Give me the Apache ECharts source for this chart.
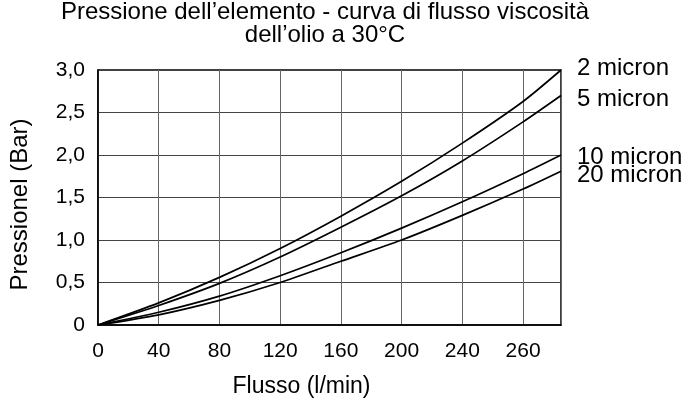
<!DOCTYPE html>
<html>
<head>
<meta charset="utf-8">
<script src="https://cdn.jsdelivr.net/npm/echarts@6/dist/echarts.min.js"></script>
<style>
  html, body { margin: 0; padding: 0; background: #fff; }
  #chart { width: 700px; height: 404px; }
</style>
</head>
<body>
<div id="chart"></div>
<script>
// flusso (l/min) - la griglia arriva a ~305
var flow = [0, 40, 80, 120, 160, 200, 240, 280, 305];
var micron2 = [0, 0.26, 0.56, 0.90, 1.28, 1.69, 2.14, 2.63, 3.0];
var micron5 = [0, 0.23, 0.49, 0.80, 1.15, 1.52, 1.93, 2.39, 2.70];
var micron10 = [0, 0.15, 0.34, 0.58, 0.85, 1.14, 1.45, 1.78, 2.0];
var micron20 = [0, 0.12, 0.29, 0.50, 0.75, 1.00, 1.29, 1.60, 1.81];
var seriesNames = ['2 micron', '5 micron', '10 micron', '20 micron'];
var xTickLabels = ['0', '40', '80', '120', '160', '200', '240', '260'];
var yTickLabels = ['0', '0,5', '1,0', '1,5', '2,0', '2,5', '3,0'];

var font = 'Liberation Sans, Arial, Helvetica, sans-serif';

function pairs(ys) {
  return flow.map(function (x, i) { return [x, ys[i]]; });
}

// spostamento delle etichette a destra delle curve
var labelOffsets = [[8, -2], [8, 4], [8, 2], [8, 4]];

var chart = echarts.init(document.getElementById('chart'));
var option = {
  animation: false,
  backgroundColor: '#fff',
  title: {
    text: 'Pressione dell\u2019elemento - curva di flusso viscosità\ndell\u2019olio a 30°C',
    left: 320,
    textAlign: 'center',
    top: -4,
    textStyle: {
      fontFamily: font,
      fontSize: 24,
      fontWeight: 'normal',
      color: '#000',
      lineHeight: 23
    }
  },
  grid: {
    left: 97,
    right: 139,
    top: 70,
    bottom: 79,
    show: true,
    borderColor: '#000',
    borderWidth: 1.5
  },
  xAxis: {
    type: 'value',
    min: 0,
    max: 305,
    interval: 40,
    name: 'Flusso (l/min)',
    nameLocation: 'middle',
    nameGap: 50,
    nameTextStyle: { fontFamily: font, fontSize: 23, color: '#000', padding: [0, 56, 0, 0] },
    axisLine: { lineStyle: { color: '#000', width: 1.5 } },
    axisTick: { show: false },
    axisLabel: {
      fontFamily: font,
      fontSize: 21,
      color: '#000',
      margin: 16,
      formatter: function (v) {
        var i = v / 40;
        return Number.isInteger(i) && xTickLabels[i] !== undefined ? xTickLabels[i] : '';
      }
    },
    splitLine: { show: true, lineStyle: { color: '#666', width: 1 } }
  },
  yAxis: {
    type: 'value',
    min: 0,
    max: 3,
    interval: 0.5,
    name: 'Pressionel (Bar)',
    nameLocation: 'middle',
    nameGap: 66,
    nameTextStyle: { fontFamily: font, fontSize: 24, color: '#000', padding: [0, 14, 0, 0] },
    axisLine: { show: true, lineStyle: { color: '#000', width: 1.5 } },
    axisTick: { show: false },
    axisLabel: {
      fontFamily: font,
      fontSize: 21,
      color: '#000',
      margin: 13,
      formatter: function (v) {
        var i = Math.round(v / 0.5);
        return yTickLabels[i] || '';
      }
    },
    splitLine: { show: true, lineStyle: { color: '#444', width: 1 } }
  },
  series: [micron2, micron5, micron10, micron20].map(function (ys, k) {
    return {
      name: seriesNames[k],
      type: 'line',
      data: pairs(ys),
      smooth: 0.25,
      showSymbol: false,
      symbol: 'none',
      lineStyle: { color: '#000', width: 1.7 },
      endLabel: {
        show: true,
        formatter: seriesNames[k],
        fontFamily: font,
        fontSize: 24,
        lineHeight: 20,
        color: '#000',
        offset: labelOffsets[k]
      }
    };
  })
};
chart.setOption(option);
</script>
</body>
</html>
